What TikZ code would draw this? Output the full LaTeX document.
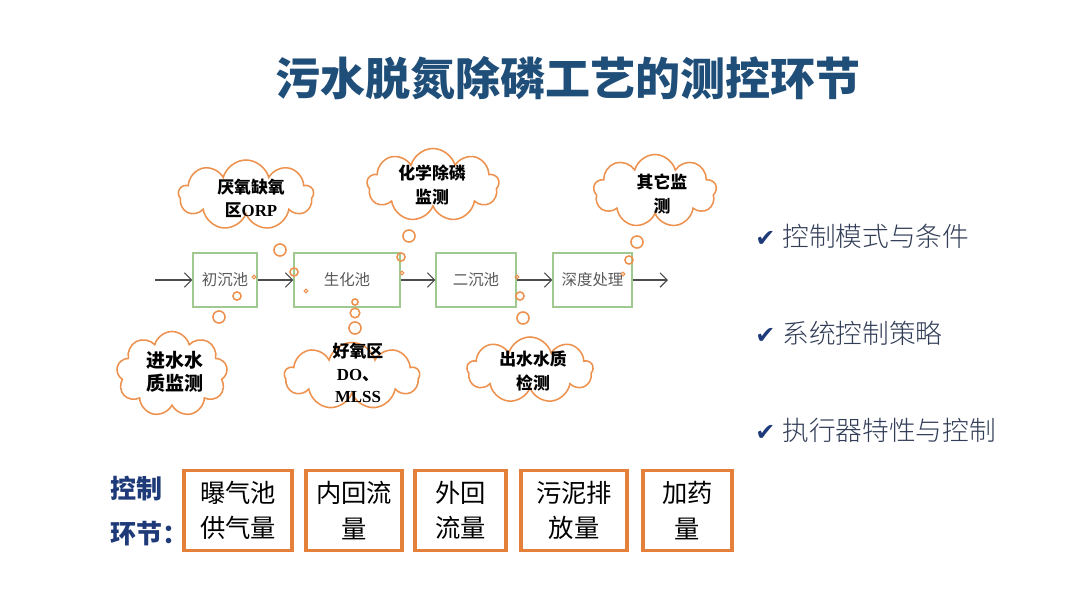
\documentclass[tikz,border=0pt]{standalone}
\usepackage{fontspec}
\setmainfont{Liberation Serif}
\newfontfamily\cjk{Noto Sans CJK SC}
\newfontfamily\cjklight{Noto Sans CJK SC Light}
\newfontfamily\symf{DejaVu Sans}
\usepackage{xcolor}
\usetikzlibrary{arrows.meta,shapes.symbols}

\definecolor{titleblue}{RGB}{31,78,121}
\definecolor{cloudorange}{RGB}{236,146,78}
\definecolor{boxorange}{RGB}{228,128,58}
\definecolor{tankgreen}{RGB}{160,200,145}
\definecolor{listgray}{RGB}{50,62,88}
\definecolor{labelblue}{RGB}{30,58,120}

\begin{document}
\begin{tikzpicture}[
  x=0.025cm, y=-0.025cm,
  >={Straight Barb[length=1.8mm]},
  tank/.style={draw=tankgreen, line width=0.8pt, minimum height=1.35cm, inner sep=0pt,
               font=\cjk\fontsize{11}{13}\selectfont, text=black!65},
  think/.style={cloud, cloud puffs=9, cloud ignores aspect, draw=cloudorange,
                line width=1.1pt, inner sep=0pt},
  thinktxt/.style={align=center, inner sep=0pt, font=\cjk\bfseries\fontsize{12}{16.5}\selectfont},
  bub/.style={draw=cloudorange, line width=1.1pt},
  flow/.style={->, draw=black!70, line width=0.8pt},
  ctrl/.style={draw=boxorange, line width=2.2pt, minimum height=2.02cm, align=center,
               font=\cjk\fontsize{18}{25}\selectfont},
  item/.style={anchor=west, inner sep=0pt, font=\cjklight\fontsize{19}{22}\selectfont, text=listgray}
]
\useasboundingbox (0,0) rectangle (1080,608);

\node[font=\cjk\bfseries\fontsize{32}{36}\selectfont, text=titleblue] (title) at (568,78)
  {污水脱氮除磷工艺的测控环节};

\node[tank, minimum width=1.6cm]   (t1) at (225,280)   {初沉池};
\node[tank, minimum width=2.65cm]  (t2) at (347,280)   {生化池};
\node[tank, minimum width=2.0cm]   (t3) at (476,280)   {二沉池};
\node[tank, minimum width=1.975cm] (t4) at (592.5,280) {深度处理};
\coordinate (in)  at (155,280);
\coordinate (out) at (668,280);
\draw[flow] (in) -- (t1);
\draw[flow] (t1) -- (t2);
\draw[flow] (t2) -- (t3);
\draw[flow] (t3) -- (t4);
\draw[flow] (t4) -- (out);

\node[think, minimum width=3.375cm, minimum height=1.75cm]  (c1) at (246,195) {};
\node[think, minimum width=3.3cm,   minimum height=1.825cm] (c2) at (433,185) {};
\node[think, minimum width=3.075cm, minimum height=1.825cm] (c3) at (655,191) {};
\node[think, minimum width=2.775cm, minimum height=2.125cm] (c4) at (172,374) {};
\node[think, minimum width=3.375cm, minimum height=1.675cm] (c5) at (352,376) {};
\node[think, minimum width=3.15cm,  minimum height=1.65cm]  (c6) at (530,370) {};

\node[thinktxt] (c1t) at (251,198) {厌氧缺氧\\区{\rmfamily ORP}};
\node[thinktxt] (c2t) at (432,185) {化学除磷\\监测};
\node[thinktxt] (c3t) at (662,194) {其它监\\测};
\node[thinktxt, font=\cjk\bfseries\fontsize{13.5}{16.5}\selectfont] (c4t) at (175,372) {进水水\\质监测};
\node[thinktxt, font=\cjk\bfseries\fontsize{12}{16}\selectfont] (c5t) at (358,373) {好氧区\\{\rmfamily DO}、\\{\rmfamily MLSS}};
\node[thinktxt] (c6t) at (533,371) {出水水质\\检测};

\foreach \x/\y/\r in {280/250/4.3, 294/272/2.9, 237/296/2.9, 219/317/4.3,
                      409/236/4.3, 401/257/2.9, 355/302/2.2, 355/313/3.4, 355/328/4.3,
                      520/296/2.9, 523/318/4.3, 637/242/4.3, 629/260/2.9}
  \draw[bub] (\x,\y) circle (\r pt);
\foreach \x/\y in {254/277, 306/291, 402/273, 517/277, 623/274}
  \draw[bub, line width=0.8pt] (\x,\y) circle (1.3pt);

\foreach \n/\y/\t in {m1/236/控制模式与条件, m2/333/系统控制策略, m3/430/执行器特性与控制}
  \node[item] (\n) at (755,\y) {{\symf\fontsize{17}{18}\selectfont\color{labelblue}✔}\hspace{5pt}\t};

\node[anchor=west, align=left, text=labelblue, font=\cjk\bfseries\fontsize{18.5}{32}\selectfont]
  (lbl) at (106,511) {控制\\环节：};

\foreach \n/\x/\w/\t in {b1/238/2.7/{曝气池\\供气量}, b2/354/2.4/{内回流\\量},
                         b3/460.5/2.275/{外回\\流量}, b4/574/2.65/{污泥排\\放量},
                         b5/687.5/2.225/{加药\\量}}
  \node[ctrl, minimum width=\w cm] (\n) at (\x,510.5) {\t};
\end{tikzpicture}
\end{document}
